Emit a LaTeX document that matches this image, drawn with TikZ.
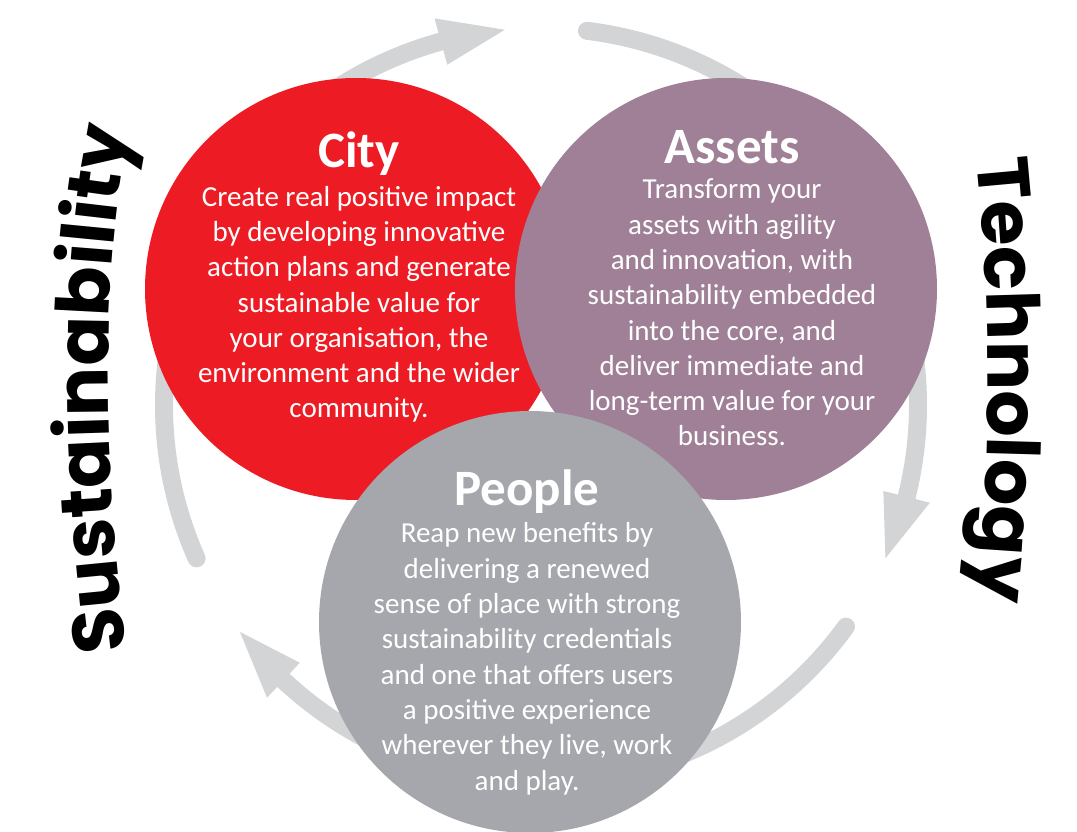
\documentclass[tikz,border=0pt]{standalone}
\usepackage{fontspec}
\setmainfont{Carlito}
\newfontfamily\curvefont{Poppins}
\usetikzlibrary{decorations.text,calc}

\definecolor{cityred}{HTML}{ED1C24}
\definecolor{assetmauve}{HTML}{9F8096}
\definecolor{peoplegrey}{HTML}{A5A7AC}
\definecolor{ringgrey}{HTML}{D3D4D6}

\tikzset{
  disc/.style={circle, inner sep=0pt, minimum size=422pt},
  headline/.style={text=white, font=\bfseries\fontsize{51}{55}\selectfont, inner sep=0pt},
  blurb/.style={text=white, align=center, inner sep=0pt, font=\fontsize{29}{35.3}\selectfont},
  ringarc/.style={draw=ringgrey, line width=18pt, line cap=round},
  sidetext/.style={decorate, decoration={text along path, text align=center}}
}

% one arrow of the cycle: arc from #1 (round end) to the head whose tip sits at #2
\newcommand\cyclearrow[2]{%
  \draw[ringarc] ($(ring)+({#1}:377)$) arc[start angle={#1}, end angle={#2+9}, radius=377];
  \fill[ringgrey] ($(ring)+({#2+9.9}:353)$) -- ($(ring)+({#2}:377)$) -- ($(ring)+({#2+9.9}:401)$) -- cycle;
}

\begin{document}
\begin{tikzpicture}[x=1pt, y=1pt]
\useasboundingbox (0,0) rectangle (1077,831);
\coordinate (ring) at (541,426);

% cycle arrows behind the discs
\cyclearrow{204}{95.5}
\cyclearrow{83}{-24}
\cyclearrow{-36}{-143}

% the three discs
\node[disc, fill=cityred]    (city)   at (356,542) {};
\node[disc, fill=assetmauve] (assets) at (726,542) {};
\node[disc, fill=peoplegrey] (people) at (530,209) {};

% City (body anchored at the baseline of its last line)
\node[headline, anchor=base] (cityhead) at (359,663) {City};
\node[blurb, anchor=base] (citytext) at (359,413) {Create real positive impact\\by developing innovative\\action plans and generate\\sustainable value for\\your organisation, the\\environment and the wider\\community.};

% Assets
\node[headline, anchor=base] (assetshead) at (732,667) {Assets};
\node[blurb, anchor=base] (assetstext) at (732,385) {Transform your\\assets with agility\\and innovation, with\\sustainability embedded\\into the core, and\\deliver immediate and\\long-term value for your\\business.};

% People
\node[headline, anchor=base] (peoplehead) at (527,325) {People};
\node[blurb, anchor=base] (peopletext) at (527,41) {Reap new benefits by\\delivering a renewed\\sense of place with strong\\sustainability credentials\\and one that offers users\\a positive experience\\wherever they live, work\\and play.};

% curved side words
\path[sidetext, decoration={text={|\curvefont\bfseries\fontsize{73}{73}\selectfont|Sustainability}}]
  (128,171) .. controls (106,351) and (96,541) .. (132,711);
\path[sidetext, decoration={text={|\curvefont\bfseries\fontsize{73}{73}\selectfont|Technology}}]
  (975,686) .. controls (992,531) and (992,361) .. (975,216);
\end{tikzpicture}
\end{document}
